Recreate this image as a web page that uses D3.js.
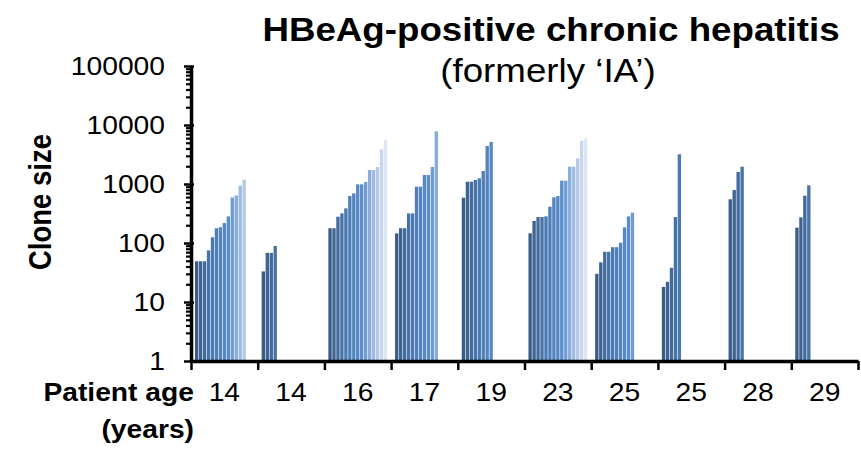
<!DOCTYPE html>
<html>
<head>
<meta charset="utf-8">
<script src="https://cdn.jsdelivr.net/npm/d3@7"></script>
<style>
  html, body { margin: 0; padding: 0; background: #fff; }
  svg { display: block; font-family: "Liberation Sans", Arial, sans-serif; }
</style>
</head>
<body>
<div id="chart"></div>
<script>
/* ---------- Data (clone sizes per patient) ---------- */
const ages = ["14", "14", "16", "17", "19", "23", "25", "25", "28", "29"];

const patient1  = [49, 49, 49, 75, 125, 178, 185, 218, 283, 590, 640, 935, 1180];
const patient2  = [33, 68, 68, 89];
const patient3  = [178, 178, 279, 318, 387, 626, 695, 987, 987, 1081, 1726, 1726, 1940, 3870, 5570];
const patient4  = [146, 178, 178, 318, 318, 901, 901, 1421, 1421, 1940, 7800];
const patient5  = [586, 1094, 1094, 1169, 1248, 1660, 4405, 5150];
const patient6  = [146, 236, 276, 276, 283, 413, 594, 626, 1137, 1137, 1966, 1966, 2722, 5400, 5900];
const patient7  = [30, 47, 71, 71, 85, 85, 101, 184, 283, 327];
const patient8  = [18, 22, 38, 275, 3190];
const patient9  = [551, 791, 1597, 1966];
const patient10 = [182, 272, 634, 949];

const cloneSizes = [patient1, patient2, patient3, patient4, patient5,
                    patient6, patient7, patient8, patient9, patient10];

const yTickValues = [1, 10, 100, 1000, 10000, 100000];

/* ---------- Layout ---------- */
const W = 861, H = 451;
const M = { top: 66, right: 3, bottom: 90, left: 191 };
const SX = 1.13;              // the source figure is slightly stretched horizontally
const FONT_TICK = 25;

const svg = d3.select("#chart").append("svg")
  .attr("width", W).attr("height", H);

// stretched text helper
function label(x, y, str, { size = FONT_TICK, weight = "normal", anchor = "middle", rotate = 0 } = {}) {
  return svg.append("text")
    .attr("transform", `translate(${x},${y}) scale(${SX},1)` + (rotate ? ` rotate(${rotate})` : ""))
    .attr("text-anchor", anchor)
    .attr("font-size", size)
    .attr("font-weight", weight)
    .attr("fill", "#000")
    .text(str);
}

/* ---------- Scales ---------- */
const xGroup = d3.scaleBand()
  .domain(d3.range(ages.length))
  .range([M.left, W - M.right])
  .padding(0);

const nSlots = d3.max(cloneSizes, d => d.length);
const xSlot = d3.scaleBand()
  .domain(d3.range(nSlots))
  .range([0, xGroup.bandwidth()])
  .paddingInner(0.15)
  .paddingOuter(1.0);

const y = d3.scaleLog()
  .domain([1, 100000])
  .range([H - M.bottom, M.top]);

const color = d3.scaleLinear()
  .domain([0, 4, 8, 11, 14])
  .range(["#3a5c86", "#4b7ab3", "#5a8dcc", "#9fbbe2", "#dce5f2"])
  .clamp(true);

/* ---------- Bars ---------- */
const groups = svg.append("g").attr("class", "bars")
  .selectAll("g")
  .data(cloneSizes)
  .join("g")
    .attr("transform", (d, i) => `translate(${xGroup(i)},0)`);

groups.selectAll("rect")
  .data(d => d.map((v, j) => ({ v, j })))
  .join("rect")
    .attr("x", d => xSlot(d.j))
    .attr("width", xSlot.bandwidth())
    .attr("y", d => y(d.v))
    .attr("height", d => y(1) - y(d.v))
    .attr("fill", d => color(d.j));

/* ---------- Y axis (log, with minor ticks) ---------- */
const minorTicks = y.ticks().filter(t => !yTickValues.includes(t));

const yMinor = svg.append("g")
  .attr("transform", `translate(${M.left},0)`)
  .call(d3.axisLeft(y).tickValues(minorTicks).tickSize(5).tickFormat(""));
yMinor.select(".domain").remove();
yMinor.selectAll(".tick line").attr("stroke", "#000").attr("stroke-width", 2.2);

const yMajor = svg.append("g")
  .attr("transform", `translate(${M.left},0)`)
  .call(d3.axisLeft(y).tickValues(yTickValues).tickSize(7).tickSizeOuter(0).tickFormat(""));
yMajor.select(".domain").attr("stroke", "#000").attr("stroke-width", 3.5);
yMajor.selectAll(".tick line").attr("x1", 3).attr("stroke", "#000").attr("stroke-width", 2.5);

yTickValues.forEach(t => label(165, y(t) + 9, String(t), { anchor: "end" }));

/* ---------- X axis (group boundaries) ---------- */
const xEdge = d3.scaleLinear().domain([0, ages.length]).range(xGroup.range());
const xAxis = svg.append("g")
  .attr("transform", `translate(0,${y(1)})`)
  .call(d3.axisBottom(xEdge).tickValues(d3.range(ages.length + 1)).tickSize(9).tickSizeOuter(0).tickFormat(""));
xAxis.select(".domain").attr("stroke", "#000").attr("stroke-width", 3.5);
xAxis.selectAll(".tick line").attr("stroke", "#000").attr("stroke-width", 2.5);

ages.forEach((a, i) => label(xGroup(i) + xGroup.bandwidth() / 2, 401, a));

/* ---------- Titles ---------- */
label(194, 401, "Patient age", { weight: "bold", anchor: "end" });
label(194, 438, "(years)", { weight: "bold", anchor: "end" });

label(51, 202, "Clone size", { size: 27.5, weight: "bold", rotate: -90 });

label(551, 41, "HBeAg-positive chronic hepatitis", { size: 32.5, weight: "bold" });
label(548, 82, "(formerly \u2018IA\u2019)", { size: 32.5 });
</script>
</body>
</html>
